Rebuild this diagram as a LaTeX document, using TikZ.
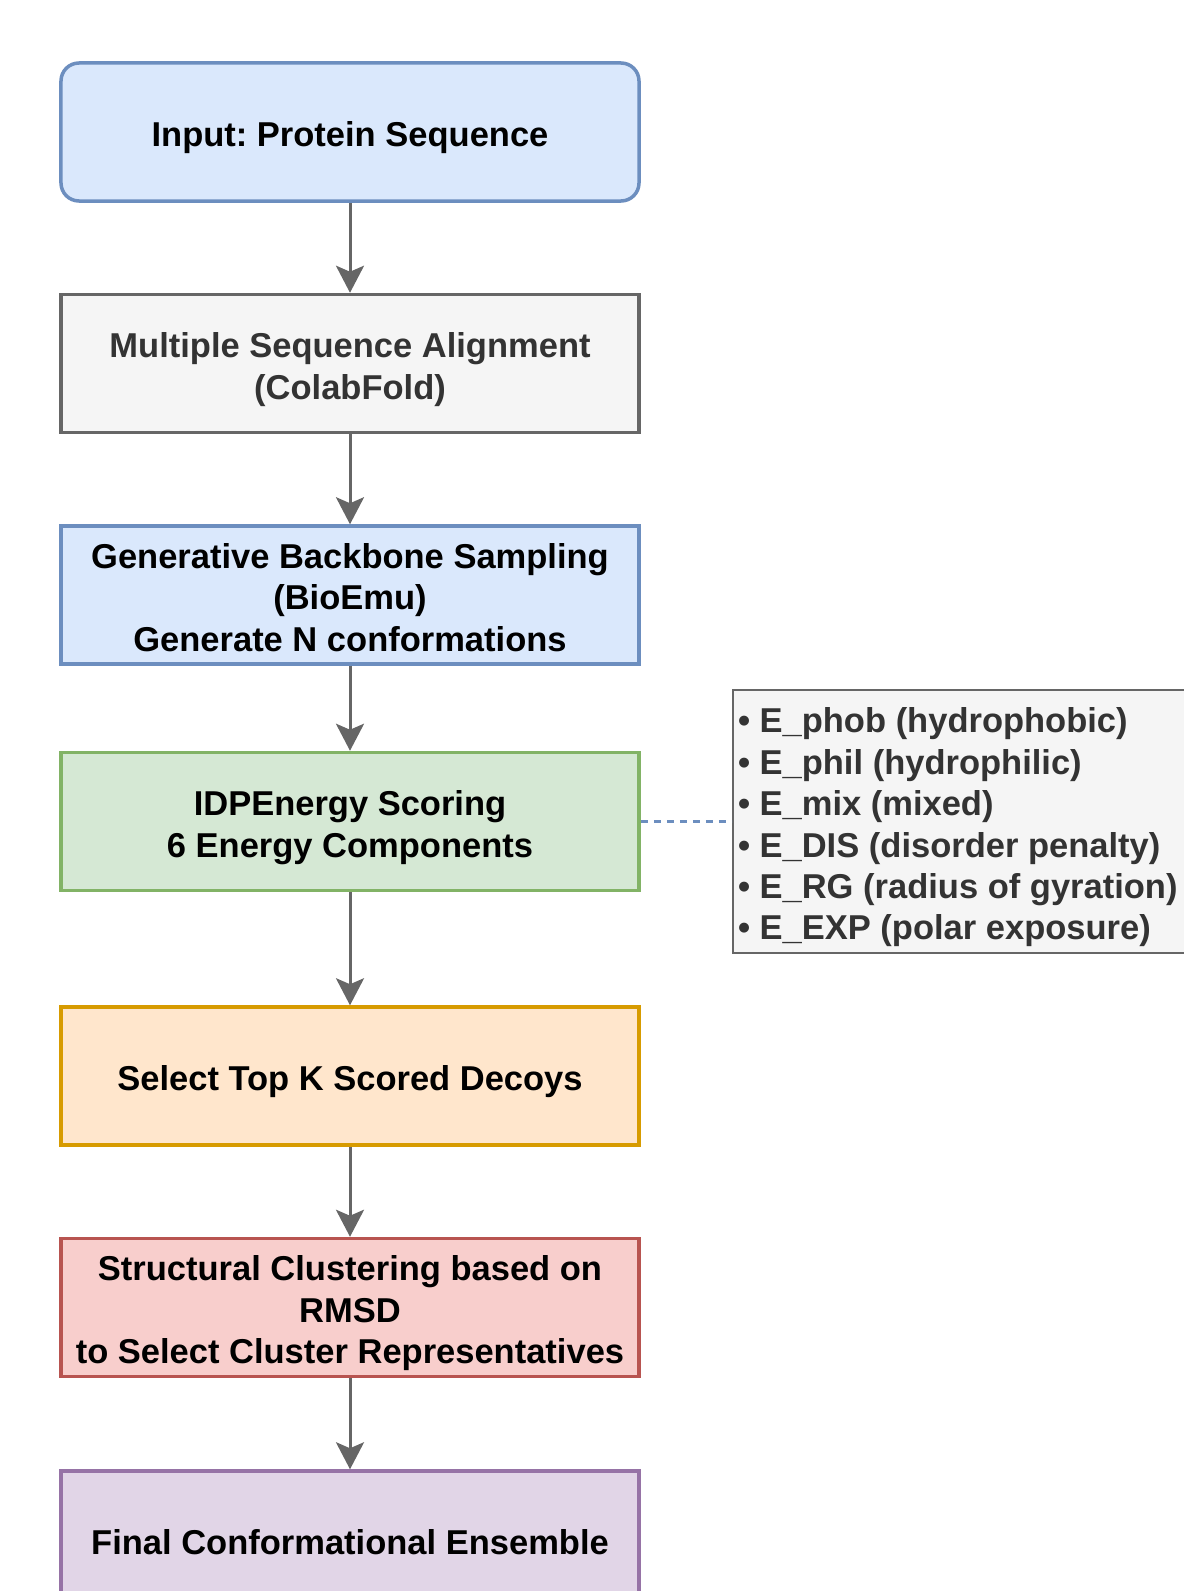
\documentclass[tikz,border=0pt]{standalone}
\usepackage{fontspec}
\setsansfont{Liberation Sans}
\usepackage{tikz}
\usetikzlibrary{arrows.meta,positioning}
\definecolor{ink}{HTML}{333333}
\definecolor{arrowc}{HTML}{666666}
\definecolor{inputc}{HTML}{6C8EBF}
\definecolor{inputf}{HTML}{DAE8FC}
\definecolor{msac}{HTML}{666666}
\definecolor{msaf}{HTML}{F5F5F5}
\definecolor{scorec}{HTML}{82B366}
\definecolor{scoref}{HTML}{D5E8D4}
\definecolor{selectc}{HTML}{D79B00}
\definecolor{selectf}{HTML}{FFE6CC}
\definecolor{clusterc}{HTML}{B85450}
\definecolor{clusterf}{HTML}{F8CECC}
\definecolor{finalc}{HTML}{9673A6}
\definecolor{finalf}{HTML}{E1D5E7}
\frenchspacing

\begin{document}
\begin{tikzpicture}[x=1bp,y=1bp,node distance=90bp and 90bp,every node/.style={font=\sffamily\bfseries\fontsize{34.5bp}{41.4bp}\selectfont,execute at begin node={\rule{0pt}{37bp}},execute at end node={\rule[-7.3bp]{0pt}{7.3bp}}}]
\tikzstyle{box}=[draw,line width=3.5bp,minimum width=578bp,minimum height=138bp,text width=570bp,inner xsep=4bp,align=flush center]
\tikzstyle{flow}=[-{Stealth[length=27bp,width=28bp,inset=6bp]},arrowc,line width=3bp]
\useasboundingbox (0,0) rectangle (1183,-1591);
\node[box,rounded corners=18bp,draw=inputc,fill=inputf] (seq) at (350,-132) {Input: Protein Sequence};
\node[box,draw=msac,fill=msaf,text=ink,below=of seq] (msa) {Multiple Sequence Alignment\\(ColabFold)};
\node[box,draw=inputc,fill=inputf,below=of msa] (bioemu) {Generative Backbone Sampling\\(BioEmu)\\Generate N conformations};
\node[box,draw=scorec,fill=scoref,below=85bp of bioemu] (score) {IDPEnergy Scoring\\6 Energy Components};
\node[box,draw=selectc,fill=selectf,below=113bp of score] (topk) {Select Top K Scored Decoys};
\node[box,draw=clusterc,fill=clusterf,below=of topk] (cluster) {Structural Clustering based on\\RMSD\\to Select Cluster Representatives};
\node[box,draw=finalc,fill=finalf,below=91bp of cluster] (final) {Final Conformational Ensemble};
\node[draw=msac,fill=msaf,text=ink,line width=2.5bp,minimum height=263bp,text width=470bp,inner xsep=5bp,align=flush left,right=91bp of score] (terms) {• E\_phob (hydrophobic)\\• E\_phil (hydrophilic)\\• E\_mix (mixed)\\• E\_DIS (disorder penalty)\\• E\_RG (radius of gyration)\\• E\_EXP (polar exposure)};
\draw[flow] (seq)--(msa);
\draw[flow] (msa)--(bioemu);
\draw[flow] (bioemu)--(score);
\draw[flow] (score)--(topk);
\draw[flow] (topk)--(cluster);
\draw[flow] (cluster)--(final);
\draw[inputc,line width=2.5bp,dash pattern=on 7bp off 6bp] (score)--(terms);
\end{tikzpicture}
\end{document}
